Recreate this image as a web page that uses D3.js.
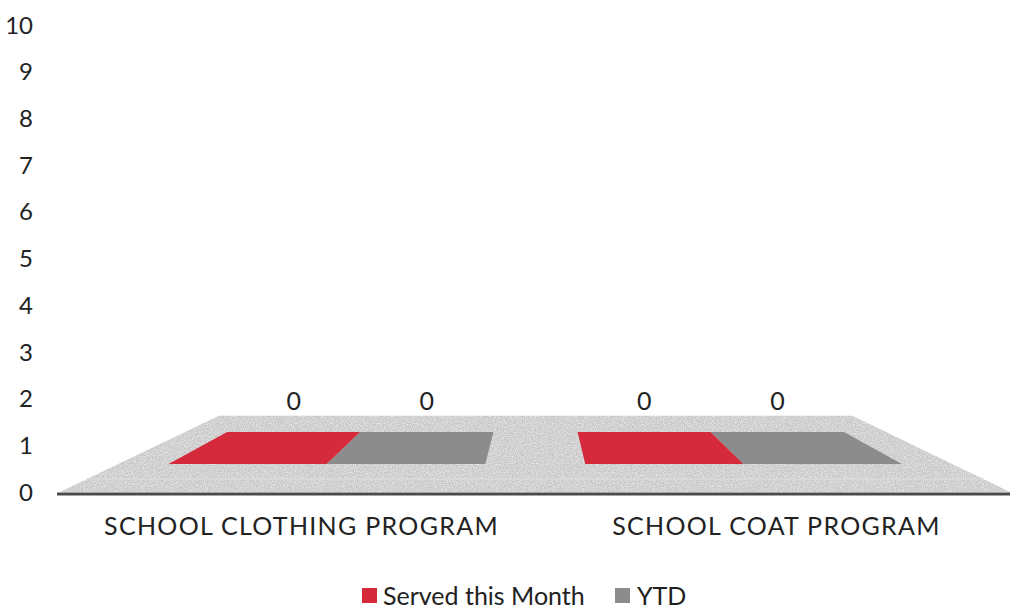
<!DOCTYPE html>
<html>
<head>
<meta charset="utf-8">
<script src="https://cdn.jsdelivr.net/npm/d3@7"></script>
<style>
  html, body { margin: 0; padding: 0; background: #fff; }
  svg { display: block; font-family: "Gill Sans", Lato, "Open Sans", sans-serif; }
</style>
</head>
<body>
<div id="chart"></div>
<script>
// data
const categories = ["SCHOOL CLOTHING PROGRAM", "SCHOOL COAT PROGRAM"];
const seriesNames = ["Served this Month", "YTD"];
const servedThisMonth = [0, 0];
const ytd = [0, 0];
const yTicks = d3.range(0, 11);

const width = 1013, height = 613;
const colors = { "Served this Month": "#d42a3c", "YTD": "#8c8c8c" };

const svg = d3.select("#chart").append("svg")
  .attr("width", width)
  .attr("height", height);

// light speckle texture to mimic the scanned 3D floor
const defs = svg.append("defs");
const grain = defs.append("filter").attr("id", "grain")
  .attr("x", 0).attr("y", 0).attr("width", 1).attr("height", 1);
grain.append("feTurbulence").attr("type", "fractalNoise")
  .attr("baseFrequency", 0.9).attr("numOctaves", 2).attr("seed", 3).attr("result", "noise");
grain.append("feColorMatrix").attr("in", "noise").attr("type", "matrix")
  .attr("values", "0 0 0 0 1  0 0 0 0 1  0 0 0 0 1  0 0 0 -1.4 0.85").attr("result", "speck");
grain.append("feComposite").attr("in", "speck").attr("in2", "SourceGraphic")
  .attr("operator", "in").attr("result", "speckIn");
grain.append("feMerge").call(m => {
  m.append("feMergeNode").attr("in", "SourceGraphic");
  m.append("feMergeNode").attr("in", "speckIn");
});

// value axis (drawn on the front plane)
const y = d3.scaleLinear().domain([0, 10]).range([492, 25]);

// world x positions on the front plane
const x = d3.scaleBand().domain(categories).range([60, 1010])
  .paddingInner(0.24).paddingOuter(0.12);
const xs = d3.scaleBand().domain(seriesNames).range([0, x.bandwidth()]);

// perspective: depth 0 = front edge, 1 = back edge
const vanish = { x: 537, y: 263 };
const k = 0.5;
const depth = { front: 0, back: 1, barFront: 0.28, barBack: 0.71 };

function project(wx, z, v) {
  const s = 1 / (1 + k * z);
  return [vanish.x + (wx - vanish.x) * s, vanish.y + (y(v) - vanish.y) * s];
}

const line = d3.line();

// floor
const [x0, x1] = x.range();
const floor = [
  project(x0, depth.front, 0), project(x0, depth.back, 0),
  project(x1, depth.back, 0), project(x1, depth.front, 0)
];
svg.append("path")
  .attr("d", line(floor) + "Z")
  .attr("fill", "#c8c8c8")
  .attr("filter", "url(#grain)");

// faint lighter band near the front of the floor
svg.append("path")
  .attr("d", line([project(x0, 0.12, 0), project(x1, 0.12, 0)]))
  .attr("stroke", "#d8d8d8").attr("stroke-width", 2).attr("fill", "none");

// baseline
svg.append("line")
  .attr("x1", 57).attr("x2", 1010)
  .attr("y1", y(0) + 2).attr("y2", y(0) + 2)
  .attr("stroke", "#4a4a4a").attr("stroke-width", 3);

// bars (flat, zero height)
const rows = [];
categories.forEach((c, i) => {
  rows.push({ cat: c, series: "Served this Month", value: servedThisMonth[i] });
  rows.push({ cat: c, series: "YTD", value: ytd[i] });
});

const bars = svg.append("g").selectAll("g").data(rows).join("g");

bars.append("path")
  .attr("d", d => {
    const l = x(d.cat) + xs(d.series), r = l + xs.bandwidth();
    return line([
      project(l, depth.barFront, d.value), project(l, depth.barBack, d.value),
      project(r, depth.barBack, d.value), project(r, depth.barFront, d.value)
    ]) + "Z";
  })
  .attr("fill", d => colors[d.series]);

// value labels
bars.append("text")
  .attr("x", d => project(x(d.cat) + xs(d.series) + xs.bandwidth() / 2, depth.barBack, d.value)[0])
  .attr("y", d => project(0, depth.barBack, d.value)[1] - 22)
  .attr("text-anchor", "middle")
  .attr("font-size", 25)
  .attr("fill", "#222")
  .text(d => d.value);

// y tick labels
svg.append("g").selectAll("text").data(yTicks).join("text")
  .attr("x", 33)
  .attr("y", d => y(d))
  .attr("dy", "0.36em")
  .attr("text-anchor", "end")
  .attr("font-size", 24)
  .attr("fill", "#222")
  .text(d => d);

// category labels
svg.append("g").selectAll("text").data(categories).join("text")
  .attr("x", d => x(d) + x.bandwidth() / 2 + 4)
  .attr("y", 535)
  .attr("text-anchor", "middle")
  .attr("font-size", 25)
  .attr("letter-spacing", 1.3)
  .attr("fill", "#222")
  .text(d => d);

// legend
const legend = svg.append("g");
const legendItems = [
  { name: seriesNames[0], sx: 362, tx: 383 },
  { name: seriesNames[1], sx: 615, tx: 637 }
];
legendItems.forEach(it => {
  legend.append("rect")
    .attr("x", it.sx).attr("y", 588).attr("width", 15).attr("height", 15)
    .attr("fill", colors[it.name]);
  legend.append("text")
    .attr("x", it.tx).attr("y", 605)
    .attr("font-size", 25)
    .attr("fill", "#222")
    .text(it.name);
});
</script>
</body>
</html>
